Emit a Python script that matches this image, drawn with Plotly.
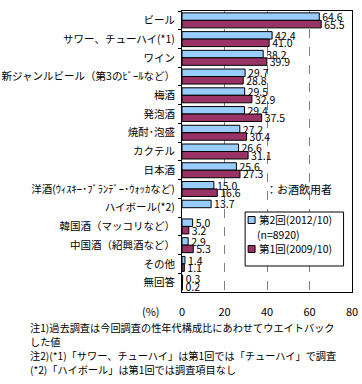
import plotly.graph_objects as go

categories = [
    "ビール", "サワー、チューハイ(*1)", "ワイン", "新ジャンルビール（第3のﾋﾞｰﾙなど）",
    "梅酒", "発泡酒", "焼酎･泡盛", "カクテル", "日本酒",
    "洋酒(ｳｨｽｷｰ･ﾌﾞﾗﾝﾃﾞｰ･ｳｫｯｶなど)", "ハイボール(*2)", "韓国酒（マッコリなど）",
    "中国酒（紹興酒など）", "その他", "無回答",
]
wave2 = [64.6, 42.4, 38.2, 29.7, 29.5, 29.4, 27.2, 26.6, 25.6, 15.0, 13.7, 5.0, 2.9, 1.4, 0.3]
wave1 = [65.5, 41.0, 39.9, 28.8, 32.9, 37.5, 30.4, 31.1, 27.3, 16.6, None, 3.2, 5.3, 1.1, 0.2]
name2 = "第2回(2012/10)"
name2_note = "(n=8920)"
name1 = "第1回(2009/10)"
color2 = "#99CCFF"
color1 = "#993366"
x_ticks = [0, 20, 40, 60, 80]
footnotes = [
    "注1)過去調査は今回調査の性年代構成比にあわせてウエイトバック",
    "した値",
    "注2)(*1)「サワー、チューハイ」は第1回では「チューハイ」で調査",
    "(*2)「ハイボール」は第1回では調査項目なし",
]

FONT = "Noto Sans CJK JP"

def fmt(vals):
    return ["" if v is None else f"{v:.1f}" for v in vals]

fig = go.Figure()
fig.add_trace(go.Bar(
    y=categories, x=wave2, name=name2, orientation="h",
    marker=dict(color=color2, line=dict(color="black", width=1)),
    text=fmt(wave2), textposition="outside", constraintext="none",
    textfont=dict(size=10.5, color="black", family=FONT), cliponaxis=False,
    showlegend=False,
))
fig.add_trace(go.Bar(
    y=categories, x=wave1, name=name1, orientation="h",
    marker=dict(color=color1, line=dict(color="black", width=1)),
    text=fmt(wave1), textposition="outside", constraintext="none",
    textfont=dict(size=10.5, color="black", family=FONT), cliponaxis=False,
    showlegend=False,
))

W, H = 362, 384
L, R, T, B = 181.5, 9.5, 11, 92
ph = H - T - B
pw = W - L - R

def py(ypix):
    return (H - B - ypix) / ph

def px(xpix):
    return (xpix - L) / pw

def txt(t, xpix, ypix, size=10.5, anchor="left"):
    return dict(text=t, x=px(xpix), y=py(ypix), xref="paper", yref="paper",
                showarrow=False, xanchor=anchor, yanchor="middle",
                font=dict(size=size, color="black", family=FONT))

annotations = [
    txt("(%)", 150, 311, size=11, anchor="center"),
    txt("：お酒飲用者", 264, 189, size=11),
    txt(name2, 257, 220),
    txt(name2_note, 255, 234),
    txt(name1, 257, 249),
]
for i, t in enumerate(footnotes):
    annotations.append(txt(t, 27, 327 + 14 * i, size=10.2))

shapes = [
    dict(type="rect", xref="paper", yref="paper",
         x0=px(245), x1=px(344), y0=py(212), y1=py(266),
         line=dict(color="black", width=1), fillcolor="white", layer="above"),
    dict(type="rect", xref="paper", yref="paper",
         x0=px(248), x1=px(255), y0=py(216.5), y1=py(223.5),
         line=dict(color="black", width=1), fillcolor=color2, layer="above"),
    dict(type="rect", xref="paper", yref="paper",
         x0=px(248), x1=px(255), y0=py(245.5), y1=py(252.5),
         line=dict(color="black", width=1), fillcolor=color1, layer="above"),
]

fig.update_layout(
    width=W, height=H,
    margin=dict(l=L, r=R, t=T, b=B, pad=0, autoexpand=False),
    paper_bgcolor="white", plot_bgcolor="white",
    barmode="group", bargap=0.2, bargroupgap=0,
    font=dict(family=FONT, size=10, color="black"),
    showlegend=False,
    annotations=annotations,
    shapes=shapes,
    xaxis=dict(range=[0, 80], tickvals=x_ticks, ticktext=[str(v) for v in x_ticks],
               showgrid=True, gridcolor="#808080", griddash="dash", gridwidth=1,
               showline=True, linecolor="black", linewidth=1, mirror=True,
               zeroline=False, ticks="", ticklabelstandoff=10, automargin=False,
               tickfont=dict(size=11, color="black", family=FONT), fixedrange=True),
    yaxis=dict(autorange="reversed", showline=True, linecolor="black", linewidth=1,
               mirror=True, ticks="outside", ticklen=3, tickcolor="black",
               tickson="boundaries", showgrid=False, automargin=False,
               ticklabelstandoff=4,
               tickfont=dict(size=10.5, color="black", family=FONT), fixedrange=True),
)

fig.write_html("out.html", config={"displayModeBar": False},
               post_script="document.body.style.margin='0';document.body.style.padding='0';")
